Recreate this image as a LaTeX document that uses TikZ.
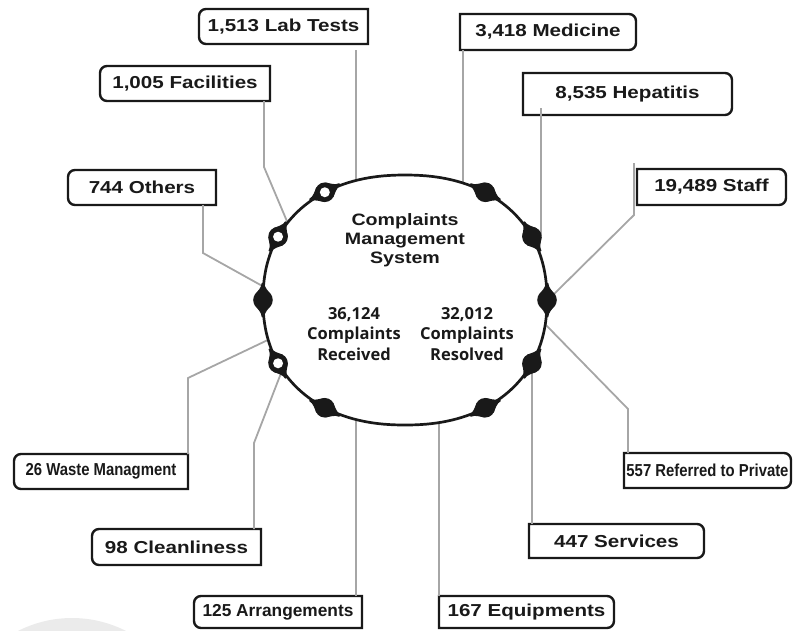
\documentclass[tikz,border=0pt]{standalone}
\usepackage{fontspec}
\newfontfamily\boxfont{Liberation Sans}[FakeStretch=1.19]
\newfontfamily\plainfont{Liberation Sans}
\newfontfamily\narrowfont{Liberation Sans}[FakeStretch=0.86]
\newfontfamily\numfont{Open Sans}
\pgfdeclarelayer{bg}
\pgfsetlayers{bg,main}

\tikzset{
  conn/.style={draw=gray!70, line width=1.8pt},
  frame/.style={draw=black!90, fill=white, line width=2.4pt},
  cat/.style={inner sep=0pt, outer sep=0pt, text=black!90,
    font=\boxfont\bfseries\fontsize{17.3}{20}\selectfont},
  catp/.style={cat, font=\plainfont\bfseries\fontsize{17.3}{20}\selectfont},
  catn/.style={cat, font=\narrowfont\bfseries\fontsize{17.3}{20}\selectfont},
  % bead: x axis along the outline, y axis across it
  blobfill/.pic={
    \fill[black!90] (0,0) circle[radius=9.8pt];
    \fill[black!90] (-17,1.3) .. controls (-12,1.6) and (-9.5,5) .. (-5,8.4)
      -- (-5,-8.4) .. controls (-9.5,-5) and (-12,-1.6) .. (-17,-1.3) -- cycle;
    \fill[black!90] (17,1.3) .. controls (12,1.6) and (9.5,5) .. (5,8.4)
      -- (5,-8.4) .. controls (9.5,-5) and (12,-1.6) .. (17,-1.3) -- cycle;
  },
  blobopen/.pic={
    \pic {blobfill};
    \fill[white] (0,0) circle[radius=5pt];
  }
}

% frame rounded on the left side / on the right side
\newcommand\lframe[1]{%
  \filldraw[frame] (#1.north east) -- ([xshift=7pt]#1.north west)
    arc[start angle=90,end angle=180,radius=7pt] -- ([yshift=7pt]#1.south west)
    arc[start angle=180,end angle=270,radius=7pt] -- (#1.south east) -- cycle;}
\newcommand\rframe[1]{%
  \filldraw[frame] (#1.north west) -- ([xshift=-7pt]#1.north east)
    arc[start angle=90,end angle=0,radius=7pt] -- ([yshift=7pt]#1.south east)
    arc[start angle=0,end angle=-90,radius=7pt] -- (#1.south west) -- cycle;}

% bead of kind #2 at parameter #1 of the outline
\newcommand\bead[2]{%
  \pgfmathsetmacro\bx{sx(#1)}%
  \pgfmathsetmacro\by{sy(#1)}%
  \pgfmathsetmacro\ddx{sx(#1+1)-sx(#1-1)}%
  \pgfmathsetmacro\ddy{sy(#1+1)-sy(#1-1)}%
  \pgfmathsetmacro\len{veclen(\ddx,\ddy)}%
  \pgfmathsetmacro\cux{(\ddx)/\len}%
  \pgfmathsetmacro\cuy{(0-(\ddy))/\len}%
  \pgfmathsetmacro\cvx{(\ddy)/\len}%
  \pgfmathsetmacro\cvy{(\ddx)/\len}%
  \begin{scope}[shift={(\bx,\by)}, x={(\cux pt,\cuy pt)}, y={(\cvx pt,\cvy pt)}]
    \pic {#2};
  \end{scope}}

\begin{document}
\begin{tikzpicture}[x=1pt,y=-1pt,
  declare function={
    sx(\u)=405+142*cos(\u)*pow(abs(cos(\u))+0.001,-0.1);
    sy(\u)=300+125*sin(\u)*pow(abs(sin(\u))+0.001,-0.1);}]
\useasboundingbox (0,0) rectangle (805,630);

% category labels
\node[cat, minimum width=169pt, minimum height=35pt] (lab) at (283.5,26.5) {1,513 Lab Tests};
\node[cat, minimum width=176pt, minimum height=36pt] (med) at (548,32) {3,418 Medicine};
\node[cat, minimum width=209pt, minimum height=42pt] (hep) at (627.5,94) {8,535 Hepatitis};
\node[cat, minimum width=149pt, minimum height=36pt] (staff) at (711.5,187) {19,489 Staff};
\node[catn, minimum width=167pt, minimum height=35pt] (ref) at (707.5,470.5) {557 Referred to Private};
\node[cat, minimum width=175pt, minimum height=34pt] (srv) at (616.5,541) {447 Services};
\node[cat, minimum width=175pt, minimum height=32pt] (equ) at (526.5,612) {167 Equipments};
\node[catp, minimum width=168pt, minimum height=32pt] (arr) at (278,612) {125 Arrangements};
\node[cat, minimum width=169pt, minimum height=36pt] (cln) at (176.5,547) {98 Cleanliness};
\node[catn, minimum width=174pt, minimum height=35pt] (wst) at (101,471.5) {26 Waste Managment};
\node[cat, minimum width=148pt, minimum height=35pt] (oth) at (142,187.5) {744 Others};
\node[cat, minimum width=170pt, minimum height=35pt] (fac) at (185,83.5) {1,005 Facilities};

\begin{pgfonlayer}{bg}
  \fill[black!8] (72,737) circle[radius=119pt];
  \lframe{lab} \lframe{fac} \lframe{oth} \lframe{wst} \lframe{cln} \lframe{arr}
  \rframe{med} \rframe{hep} \rframe{staff} \rframe{ref} \rframe{srv} \rframe{equ}
\end{pgfonlayer}

% connector end and bend points
\coordinate (eLab) at (356,186);
\coordinate (eMed) at (463,188);
\coordinate (eHep) at (541,236);
\coordinate (kStaff) at (634,215);
\coordinate (eStaff) at (550,298);
\coordinate (kRef) at (628,409);
\coordinate (eRef) at (543,322);
\coordinate (eSrv) at (532,363);
\coordinate (eEqu) at (439,415);
\coordinate (eArr) at (356,415);
\coordinate (kCln) at (254,443);
\coordinate (eCln) at (283,368);
\coordinate (kWst) at (188,378);
\coordinate (eWst) at (272,338);
\coordinate (kOth) at (203,253);
\coordinate (eOth) at (266,288);
\coordinate (kFac) at (264,167);
\coordinate (eFac) at (289,226);

% connectors
\draw[conn] (lab.south -| eLab) ++(0,6) -- (eLab);
\draw[conn] (med.south -| eMed) -- (eMed);
\draw[conn] (hep.south -| eHep) ++(0,-7) -- (eHep);
\draw[conn] (staff.north -| kStaff) ++(0,-6) -- (kStaff) -- (eStaff);
\draw[conn] (ref.north -| kRef) -- (kRef) -- (eRef);
\draw[conn] (srv.north -| eSrv) -- (eSrv);
\draw[conn] (equ.north -| eEqu) -- (eEqu);
\draw[conn] (arr.north -| eArr) -- (eArr);
\draw[conn] (cln.north -| kCln) -- (kCln) -- (eCln);
\draw[conn] (wst.north -| kWst) -- (kWst) -- (eWst);
\draw[conn] (oth.south -| kOth) -- (kOth) -- (eOth);
\draw[conn] (fac.south -| kFac) -- (kFac) -- (eFac);

% central outline
\filldraw[fill=white, draw=black!90, line width=2.7pt]
  plot[variable=\s, domain=1:359, samples=180] ({sx(\s)},{sy(\s)}) -- cycle;

% beads on the outline
\foreach \t in {302,332,0,28,58,122,180} { \bead{\t}{blobfill} }
\foreach \t in {152,208,238} { \bead{\t}{blobopen} }

% texts inside
\node[align=center, text=black!90, font=\boxfont\bfseries\fontsize{16.5}{19}\selectfont]
  (title) at (405,240) {Complaints\\Management\\System};
\node[align=center, text=black!90, font=\numfont\bfseries\fontsize{16.5}{20.5}\selectfont]
  (recv) at (354,334) {36,124\\Complaints\\Received};
\node[align=center, text=black!90, font=\numfont\bfseries\fontsize{16.5}{20.5}\selectfont]
  (resv) at (467,334) {32,012\\Complaints\\Resolved};
\end{tikzpicture}
\end{document}
